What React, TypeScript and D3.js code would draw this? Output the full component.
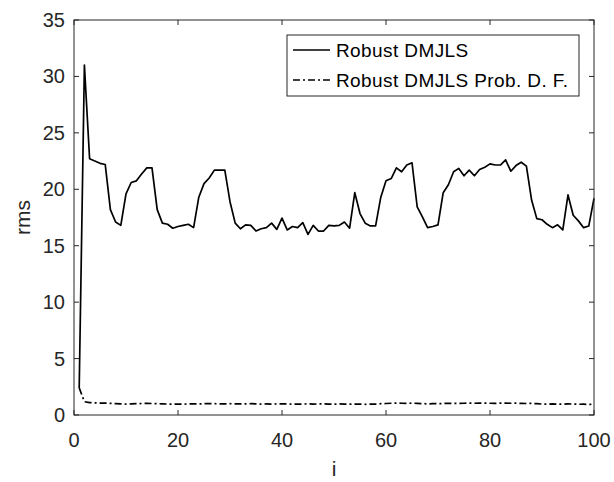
import { useEffect, useRef } from 'react';
import * as d3 from 'd3';

const width = 614;
const height = 482;
const margin = { top: 20, right: 20, bottom: 67, left: 74 };

// iteration index 1..100
const iters = d3.range(1, 101);

const robust = [
    2.4, 31.0, 22.7, 22.5, 22.3, 22.2, 18.2, 17.1, 16.8, 19.6,
    20.6, 20.75, 21.35, 21.9, 21.9, 18.2, 17.0, 16.9, 16.55, 16.7,
    16.8, 16.9, 16.6, 19.3, 20.5, 21.0, 21.7, 21.7, 21.7, 18.9,
    17.0, 16.5, 16.85, 16.8, 16.3, 16.5, 16.6, 17.0, 16.45, 17.45,
    16.4, 16.7, 16.6, 17.05, 16.0, 16.8, 16.3, 16.3, 16.8, 16.75,
    16.8, 17.1, 16.55, 19.7, 17.85, 17.0, 16.75, 16.75, 19.3, 20.75,
    20.95, 21.9, 21.55, 22.15, 22.35, 18.45, 17.55, 16.6, 16.7, 16.85,
    19.7, 20.4, 21.55, 21.85, 21.2, 21.7, 21.2, 21.75, 21.95, 22.25,
    22.15, 22.15, 22.6, 21.6, 22.1, 22.4, 22.05, 19.05, 17.4, 17.3,
    16.9, 16.6, 16.85, 16.4, 19.5, 17.7, 17.2, 16.6, 16.75, 19.2,
];

const robustProb = [
    2.4, 1.18, 1.1, 1.08, 1.06, 1.05, 1.03, 1.0, 0.98, 0.97,
    0.98, 1.0, 1.02, 1.03, 1.02, 1.0, 0.99, 0.97, 0.96, 0.97,
    0.96, 0.98, 0.99, 0.98, 1.0, 1.01, 1.0, 0.99, 0.98, 1.0,
    0.99, 0.98, 0.99, 1.0, 0.98, 0.97, 0.98, 0.97, 0.98, 0.99,
    0.98, 0.97, 0.96, 0.97, 0.98, 0.97, 0.98, 0.99, 0.97, 0.96,
    0.98, 0.97, 0.96, 0.97, 0.96, 0.95, 0.96, 0.97, 1.0, 1.02,
    1.04, 1.05, 1.04, 1.03, 1.05, 1.03, 1.01, 0.99, 1.0, 1.01,
    1.02, 1.03, 1.02, 1.03, 1.04, 1.05, 1.04, 1.06, 1.05, 1.04,
    1.03, 1.05, 1.06, 1.04, 1.05, 1.03, 1.02, 1.03, 1.0, 0.97,
    0.96, 0.98, 0.97, 0.96, 0.98, 0.97, 0.95, 0.96, 0.94, 0.93,
];

const xTicks = [0, 20, 40, 60, 80, 100];
const yTicks = [0, 5, 10, 15, 20, 25, 30, 35];
const legendLabels = ['Robust DMJLS', 'Robust DMJLS Prob. D. F.'];
const dashStyles = ['none', '7,3,2,3'];

const font = '"Liberation Sans", Arial, Helvetica, sans-serif';
const ink = '#262626';

export default function App() {
    const ref = useRef<SVGSVGElement>(null);

    useEffect(() => {
        const svg = d3.select(ref.current);
        svg.selectAll('*').remove();

        const x = d3.scaleLinear().domain([0, 100]).range([margin.left, width - margin.right]);
        const y = d3.scaleLinear().domain([0, 35]).range([height - margin.bottom, margin.top]);

        const g = svg.append('g');

        // series
        const line = d3.line<number>()
            .x((_, i) => x(iters[i]))
            .y(d => y(d));

        [robust, robustProb].forEach((s, k) => {
            g.append('path')
                .datum(s)
                .attr('d', line)
                .attr('fill', 'none')
                .attr('stroke', '#000')
                .attr('stroke-width', 1.7)
                .attr('stroke-linejoin', 'round')
                .attr('stroke-dasharray', dashStyles[k]);
        });

        // box
        const x0 = x(0), x1 = x(100), y0 = y(0), y1 = y(35);
        g.append('rect')
            .attr('x', x0).attr('y', y1)
            .attr('width', x1 - x0).attr('height', y0 - y1)
            .attr('fill', 'none').attr('stroke', ink).attr('stroke-width', 1);

        // ticks (inward, all four sides)
        const tl = 5;
        xTicks.forEach(t => {
            g.append('line').attr('x1', x(t)).attr('x2', x(t)).attr('y1', y0).attr('y2', y0 - tl).attr('stroke', ink);
            g.append('line').attr('x1', x(t)).attr('x2', x(t)).attr('y1', y1).attr('y2', y1 + tl).attr('stroke', ink);
            g.append('text')
                .attr('x', x(t)).attr('y', y0 + 32)
                .attr('text-anchor', 'middle')
                .attr('font-family', font).attr('font-size', 20).attr('fill', ink)
                .text(t);
        });
        yTicks.forEach(t => {
            g.append('line').attr('x1', x0).attr('x2', x0 + tl).attr('y1', y(t)).attr('y2', y(t)).attr('stroke', ink);
            g.append('line').attr('x1', x1).attr('x2', x1 - tl).attr('y1', y(t)).attr('y2', y(t)).attr('stroke', ink);
            g.append('text')
                .attr('x', x0 - 9).attr('y', y(t) + 7)
                .attr('text-anchor', 'end')
                .attr('font-family', font).attr('font-size', 20).attr('fill', ink)
                .text(t);
        });

        // axis labels
        g.append('text')
            .attr('x', (x0 + x1) / 2).attr('y', 476)
            .attr('text-anchor', 'middle')
            .attr('font-family', font).attr('font-size', 21).attr('fill', ink)
            .text('i');
        g.append('text')
            .attr('transform', `translate(30,${(y0 + y1) / 2}) rotate(-90)`)
            .attr('text-anchor', 'middle')
            .attr('font-family', font).attr('font-size', 21).attr('fill', ink)
            .text('rms');

        // legend
        const lg = g.append('g');
        lg.append('rect')
            .attr('x', 287).attr('y', 35).attr('width', 292).attr('height', 61)
            .attr('fill', '#fff').attr('stroke', ink).attr('stroke-width', 1);
        legendLabels.forEach((lab, k) => {
            const ly = 50 + k * 30;
            lg.append('line')
                .attr('x1', 293).attr('x2', 330).attr('y1', ly).attr('y2', ly)
                .attr('stroke', '#000').attr('stroke-width', 1.7)
                .attr('stroke-dasharray', dashStyles[k]);
            lg.append('text')
                .attr('x', 336).attr('y', ly + 7)
                .attr('font-family', font).attr('font-size', 19)
                .attr('letter-spacing', 0.4).attr('fill', '#000')
                .text(lab);
        });
    }, []);

    return (
        <div style={{ position: 'absolute', left: 0, top: 0 }}>
            <svg ref={ref} width={width} height={height} style={{ display: 'block', background: '#fff' }} />
        </div>
    );
}
